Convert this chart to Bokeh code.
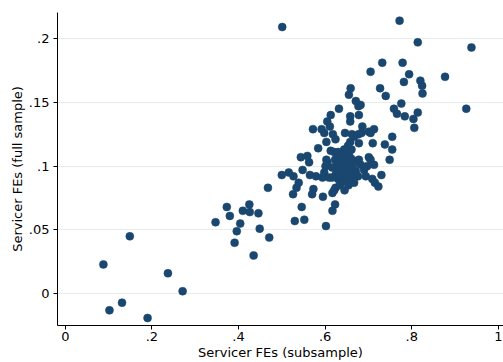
from bokeh.plotting import figure
from bokeh.models import Range1d, FixedTicker
from bokeh.embed import file_html
from bokeh.resources import INLINE

# Servicer fixed effects: subsample estimate (x) vs full-sample estimate (y)
fe_subsample = [
    0.088, 0.102, 0.131, 0.149, 0.190, 0.237, 0.271, 0.347, 0.373, 0.380,
    0.391, 0.396, 0.404, 0.410, 0.425, 0.426, 0.435, 0.446, 0.449, 0.471,
    0.468, 0.526, 0.530, 0.534, 0.539, 0.546, 0.552, 0.500, 0.516, 0.527,
    0.501, 0.772, 0.814, 0.938, 0.732, 0.779, 0.705, 0.794, 0.782, 0.820,
    0.824, 0.877, 0.659, 0.727, 0.926, 0.825, 0.655, 0.740, 0.671, 0.682,
    0.677, 0.776, 0.759, 0.766, 0.784, 0.814, 0.804, 0.806, 0.632, 0.678,
    0.658, 0.658, 0.613, 0.605, 0.611, 0.572, 0.592, 0.598, 0.618, 0.624,
    0.646, 0.662, 0.658, 0.686, 0.677, 0.678, 0.684, 0.701, 0.713, 0.705,
    0.710, 0.755, 0.738, 0.755, 0.749, 0.584, 0.603, 0.613, 0.621, 0.655,
    0.701, 0.705, 0.713, 0.697, 0.694, 0.665, 0.730, 0.709, 0.715, 0.723,
    0.544, 0.559, 0.563, 0.548, 0.573, 0.570, 0.565, 0.579, 0.594, 0.595,
    0.602, 0.617, 0.621, 0.617, 0.623, 0.645, 0.654, 0.603, 0.601, 0.598,
    0.609, 0.667, 0.661, 0.682, 0.624, 0.659, 0.605,
    0.623, 0.632, 0.641, 0.651, 0.660, 0.669, 0.628, 0.637, 0.646, 0.655,
    0.664, 0.632, 0.641, 0.651, 0.660, 0.625, 0.637, 0.646, 0.655, 0.616,
    0.671, 0.676, 0.630, 0.641, 0.616, 0.678, 0.690, 0.634, 0.667, 0.644,
    0.630, 0.653,
]
fe_full = [
    0.023, -0.013, -0.007, 0.045, -0.019, 0.016, 0.002, 0.056, 0.068, 0.061,
    0.040, 0.049, 0.055, 0.065, 0.070, 0.064, 0.030, 0.063, 0.051, 0.044,
    0.083, 0.078, 0.057, 0.083, 0.087, 0.068, 0.058, 0.093, 0.095, 0.092,
    0.209, 0.214, 0.197, 0.193, 0.181, 0.181, 0.174, 0.172, 0.166, 0.167,
    0.163, 0.170, 0.161, 0.161, 0.145, 0.157, 0.156, 0.155, 0.151, 0.148,
    0.147, 0.149, 0.145, 0.141, 0.139, 0.142, 0.137, 0.130, 0.145, 0.140,
    0.139, 0.135, 0.140, 0.135, 0.131, 0.129, 0.129, 0.126, 0.125, 0.121,
    0.126, 0.125, 0.119, 0.131, 0.125, 0.118, 0.126, 0.127, 0.129, 0.126,
    0.118, 0.123, 0.117, 0.113, 0.105, 0.114, 0.119, 0.112, 0.111, 0.110,
    0.107, 0.105, 0.101, 0.100, 0.092, 0.093, 0.093, 0.090, 0.087, 0.084,
    0.107, 0.108, 0.103, 0.097, 0.082, 0.078, 0.093, 0.092, 0.091, 0.076,
    0.053, 0.079, 0.081, 0.065, 0.070, 0.081, 0.085, 0.105, 0.100, 0.095,
    0.091, 0.123, 0.113, 0.101, 0.083, 0.088, 0.103,
    0.105, 0.107, 0.109, 0.107, 0.106, 0.104, 0.101, 0.103, 0.104, 0.101,
    0.100, 0.097, 0.099, 0.097, 0.096, 0.094, 0.093, 0.093, 0.091, 0.099,
    0.096, 0.092, 0.090, 0.088, 0.091, 0.105, 0.097, 0.085, 0.087, 0.113,
    0.111, 0.116,
]

x_ticks = [0, 0.2, 0.4, 0.6, 0.8, 1]
x_tick_labels = ["0", ".2", ".4", ".6", ".8", "1"]
y_ticks = [0, 0.05, 0.1, 0.15, 0.2]
y_tick_labels = ["0", ".05", ".1", ".15", ".2"]

FONT = "DejaVu Sans"
NAVY = "#1a476f"

p = figure(
    width=503, height=362,
    output_backend="svg", toolbar_location=None,
    x_range=Range1d(-0.018, 1.012), y_range=Range1d(-0.0249, 0.2204),
    min_border_left=57, min_border_right=0, min_border_top=12, min_border_bottom=35,
    background_fill_color="white", border_fill_color="white",
)
p.outline_line_color = None

p.scatter(fe_subsample, fe_full, size=8, fill_color=NAVY, line_color=NAVY, line_width=0.5)

# axes
p.xaxis.ticker = FixedTicker(ticks=x_ticks)
p.xaxis.major_label_overrides = {t: l for t, l in zip(x_ticks, x_tick_labels)}
p.yaxis.ticker = FixedTicker(ticks=y_ticks)
p.yaxis.major_label_overrides = {t: l for t, l in zip(y_ticks, y_tick_labels)}
p.xaxis.axis_label = "Servicer FEs (subsample)"
p.yaxis.axis_label = "Servicer FEs (full sample)"

for ax in (p.xaxis, p.yaxis):
    ax.axis_line_color = "black"
    ax.axis_line_width = 1
    ax.major_tick_line_color = "black"
    ax.major_tick_out = 4
    ax.major_tick_in = 0
    ax.minor_tick_line_color = None
    ax.major_label_text_font = FONT
    ax.major_label_text_font_size = "13px"
    ax.major_label_text_color = "black"
    ax.axis_label_text_font = FONT
    ax.axis_label_text_font_size = "13px"
    ax.axis_label_text_font_style = "normal"
    ax.axis_label_text_color = "black"

p.xaxis.major_label_standoff = 2
p.xaxis.axis_label_standoff = 1
p.yaxis.major_label_standoff = 4
p.yaxis.axis_label_standoff = 1
p.yaxis.major_label_orientation = "horizontal"

p.xgrid.grid_line_color = None
p.ygrid.grid_line_color = "#e6eef0"
p.ygrid.grid_line_width = 1

open("out.html", "w").write(file_html(p, INLINE))
